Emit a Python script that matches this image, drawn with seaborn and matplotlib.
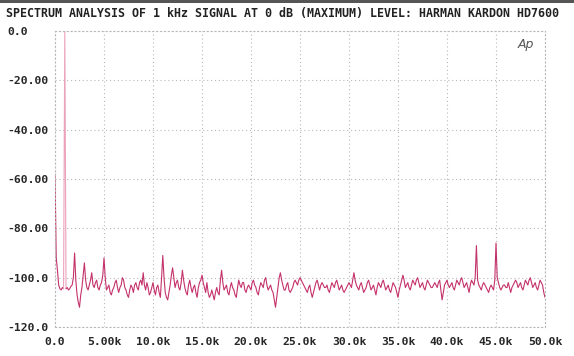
import numpy as np
import pandas as pd
import seaborn as sns
import matplotlib.pyplot as plt
from matplotlib.patches import Rectangle

# --- dati: bin a 250 Hz (0 - 50 kHz) ---
step_hz = 250
level_db = [
    # 0 - 4.75k
    -58, -97, -104.5, -104, 0, -104, -104.5, -103, -90, -107,
    -112, -104, -94, -104, -103, -98, -104, -101, -105, -102,
    # 5k - 9.75k
    -92, -105, -103, -107, -104, -101, -106, -103, -101, -105,
    -108, -103, -106, -102, -105, -101, -98, -105, -104, -106,
    # 10k - 14.75k
    -102, -107, -103, -108, -91, -106, -109, -103, -96, -104,
    -101, -105, -97, -104, -107, -101, -106, -103, -108, -102,
    # 15k - 19.75k
    -99, -104, -102, -108, -105, -109, -104, -107, -97, -105,
    -103, -107, -102, -105, -108, -101, -104, -102, -106, -103,
    # 20k - 24.75k
    -105, -101, -104, -107, -102, -104, -100, -105, -103, -106,
    -112, -104, -98, -103, -105, -102, -106, -104, -101, -103,
    # 25k - 29.75k
    -100, -102, -104, -106, -103, -108, -104, -101, -105, -102,
    -104, -103, -106, -102, -104, -101, -105, -103, -106, -104,
    # 30k - 34.75k
    -102, -104, -98, -103, -105, -102, -106, -104, -101, -105,
    -103, -107, -102, -104, -101, -105, -103, -106, -102, -104,
    # 35k - 39.75k
    -108, -103, -99, -104, -102, -105, -101, -103, -100, -104,
    -102, -105, -101, -103, -104, -102, -104, -101, -109, -103,
    # 40k - 44.75k
    -101, -104, -102, -105, -101, -103, -100, -104, -102, -106,
    -101, -103, -87, -103, -105, -102, -104, -106, -103, -105,
    # 45k - 50k
    -86, -102, -105, -103, -104, -102, -106, -103, -101, -104,
    -102, -105, -101, -103, -100, -104, -102, -105, -101, -103,
    -108,
]
# valori intermedi (bin spostati di 125 Hz)
mid_db = [
    -92, -103, -105, -104.5, -104.5, -105, -103.5, -100, -101, -110,
    -107, -99, -101, -105, -101, -103, -102, -104, -103, -99,
    -100, -104, -106, -105, -102, -104, -104, -100, -104, -107,
    -105, -104, -103, -104, -102, -103, -103, -102, -107, -104,
    -105, -104, -106, -100, -100, -108, -106, -99, -100, -102,
    -104, -102, -101, -106, -103, -104, -104, -106, -104, -101,
    -102, -106, -106, -107, -107, -106, -106, -101, -102, -104,
    -106, -104, -104, -107, -104, -103, -102, -105, -104, -104,
    -102, -103, -106, -104, -103, -101, -103, -104, -105, -109,
    -108, -100, -101, -105, -103, -105, -105, -102, -102, -101,
    -101, -103, -105, -104, -106, -106, -102, -103, -103, -103,
    -104, -105, -104, -103, -102, -103, -104, -105, -105, -103,
    -103, -101, -101, -104, -103, -104, -105, -102, -103, -104,
    -105, -104, -103, -102, -103, -104, -105, -104, -103, -106,
    -105, -101, -101, -103, -104, -103, -102, -101, -102, -103,
    -104, -103, -102, -104, -103, -103, -102, -105, -106, -102,
    -103, -103, -104, -103, -102, -101, -102, -103, -104, -103,
    -102, -100, -101, -104, -103, -103, -105, -104, -104, -101,
    -100, -104, -104, -103, -104, -104, -104, -102, -102, -103,
    -104, -103, -102, -101, -102, -103, -104, -103, -102, -106,
]
x_ticks = [0, 5000, 10000, 15000, 20000, 25000, 30000, 35000, 40000, 45000, 50000]
x_labels = ['0.0', '5.00k', '10.0k', '15.0k', '20.0k', '25.0k',
            '30.0k', '35.0k', '40.0k', '45.0k', '50.0k']
y_ticks = [0, -20, -40, -60, -80, -100, -120]
y_labels = ['0.0', '-20.00', '-40.00', '-60.00', '-80.00', '-100.0', '-120.0']
titolo = 'SPECTRUM ANALYSIS OF 1 kHz SIGNAL AT 0 dB (MAXIMUM) LEVEL: HARMAN KARDON HD7600'

df = pd.concat([
    pd.DataFrame({'freq': np.arange(len(level_db)) * step_hz, 'level': level_db}),
    pd.DataFrame({'freq': np.arange(len(mid_db)) * step_hz + step_hz / 2, 'level': mid_db}),
]).sort_values('freq', ignore_index=True)

# il picco a 1 kHz va disegnato a parte, in rosa chiaro
spike = df[(df['freq'] >= 875) & (df['freq'] <= 1125)].assign(part='spike')
left = df[df['freq'] <= 875].assign(part='left')
right = df[df['freq'] >= 1125].assign(part='right')
plot_df = pd.concat([left, spike, right], ignore_index=True)

sns.set_style("white")
plt.rcParams['font.family'] = ['DejaVu Sans Mono', 'DejaVu Sans']

fig = plt.figure(figsize=(5.74, 3.56), dpi=100)
ax = fig.add_axes([55 / 574, 1 - 327 / 356, 490 / 574, 296 / 356])

sns.lineplot(data=plot_df, x='freq', y='level', hue='part', units='part',
             estimator=None, sort=False,
             palette={'left': '#c4326b', 'spike': '#eba2bd', 'right': '#c4326b'},
             linewidth=0.8, legend=False, ax=ax)

ax.set_xlim(0, 50000)
ax.set_ylim(-120, 0)
ax.set_xticks(x_ticks)
ax.set_xticklabels(x_labels)
ax.set_yticks(y_ticks)
ax.set_yticklabels(y_labels)
ax.set_xlabel('')
ax.set_ylabel('')

ax.grid(True, color='#b8b8b8', linestyle=(0, (1, 2.5)), linewidth=0.8)
for s in ax.spines.values():
    s.set_color('#b8b8b8')
    s.set_linestyle((0, (1, 2.5)))
    s.set_linewidth(0.8)

ax.tick_params(axis='y', length=0, pad=34.6, labelsize=8.2)
ax.tick_params(axis='x', length=0, pad=7, labelsize=8.2)
for t in ax.get_yticklabels():
    t.set_horizontalalignment('left')
    t.set_fontweight('bold')
for t in ax.get_xticklabels():
    t.set_fontweight('bold')

fig.text(6 / 574, 1 - 13 / 356, titolo, fontsize=8.4, fontweight='bold',
         ha='left', va='center', color='#222222')
ax.text(0.96, 0.955, 'Ap', transform=ax.transAxes, fontsize=9, style='italic',
        family='DejaVu Sans', color='#555555', ha='center', va='center')

# bordo scuro della scansione in alto
fig.add_artist(Rectangle((0, 1 - 3 / 356), 1, 3 / 356, transform=fig.transFigure,
                         color='#555555', linewidth=0))

plt.savefig('out.png', dpi=100)
